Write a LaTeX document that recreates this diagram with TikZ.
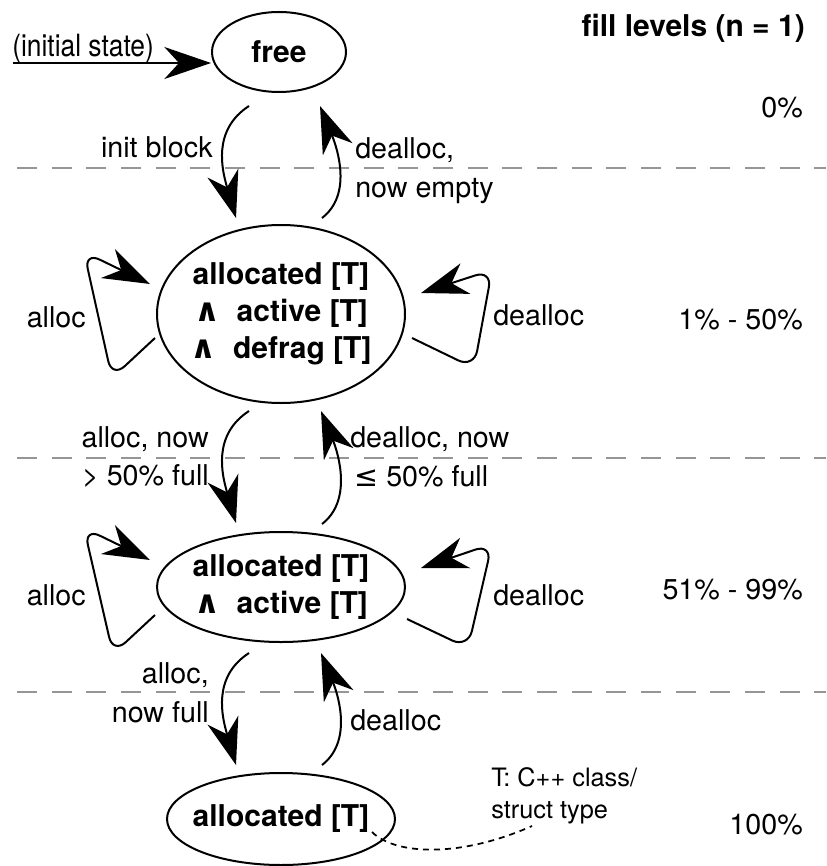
\documentclass[tikz,border=0pt]{standalone}
\usepackage{fontspec}
\setmainfont{TeX Gyre Heros}
\newfontfamily\symfont{DejaVu Sans}
\usetikzlibrary{arrows.meta,calc,shapes.geometric}
\definecolor{sepgray}{RGB}{150,150,150}
\newcommand{\wedgesym}{{\symfont\bfseries\fontsize{24}{24}\selectfont ∧}}
\begin{document}
\begin{tikzpicture}[x=0.75pt,y=-0.75pt,
  state/.style={draw,ellipse,line width=1.5pt,inner sep=0pt,inner xsep=-25pt,align=center,
    font=\fontsize{22.5}{27.75}\selectfont\bfseries},
  lbl/.style={inner sep=0pt,font=\fontsize{21.5}{29}\selectfont},
  notelbl/.style={inner sep=0pt,align=left,font=\fontsize{19}{24}\selectfont},
  arr/.style={line width=1.5pt,-{Stealth[length=35pt,width=24pt,inset=11pt]}},
  selfloop/.style={arr,rounded corners=13pt},
  sepline/.style={draw=sepgray,line width=1.5pt,dash pattern=on 15pt off 11pt},
  notelink/.style={line width=1.3pt,dash pattern=on 4.5pt off 3.75pt}
]
\useasboundingbox (0,0) rectangle (826,866);

% separators
\draw[sepline] (17,168) -- (826,168);
\draw[sepline] (17,458) -- (826,458);
\draw[sepline] (17,692) -- (826,692);

% states
\node[state,minimum width=100.5pt,minimum height=60pt] (free) at (279,52) {free};
\node[state,minimum width=186pt,minimum height=133.5pt] (A) at (281,314)
  {allocated [T]\\\wedgesym\ \ active [T]\\\wedgesym\ \ defrag [T]};
\node[state,minimum width=186pt,minimum height=82.5pt] (B) at (281,587)
  {allocated [T]\\\wedgesym\ \ active [T]};
\node[state,minimum width=171pt,minimum height=69pt] (C) at (281,819) {allocated [T]};

% initial state
\node[lbl,anchor=base west,font=\fontsize{23}{28}\selectfont] (init) at (12,57)
  {\scalebox{0.86}[1]{(initial state)}};
\coordinate (i0) at (13,63);
\draw[arr] (i0) -- (free.west |- i0);

% transition endpoints
\coordinate (d1s) at (249,106); \coordinate (d1e) at (236,218);
\coordinate (u1s) at (322,218); \coordinate (u1e) at (320,106);
\coordinate (d2s) at (249,411); \coordinate (d2e) at (236,523);
\coordinate (u2s) at (322,524); \coordinate (u2e) at (321,411);
\coordinate (d3s) at (249,653); \coordinate (d3e) at (236,765);
\coordinate (u3s) at (322,765); \coordinate (u3e) at (321,653);

\foreach \s/\e in {d1s/d1e,d2s/d2e,d3s/d3e}{
  \draw[arr] (\s) .. controls ($(\s)+(-37,24)$) and ($(\e)+(-14,-48)$) .. (\e);
}
\foreach \s/\e in {u1s/u1e,u2s/u2e,u3s/u3e}{
  \draw[arr] (\s) .. controls ($(\s)+(30,-23)$) and ($(\e)+(18,44)$) .. (\e);
}

% self loops
\draw[selfloop] (155,338) -- (112,378) -- (84,252) -- (150,284);
\draw[selfloop] (412,338) -- (474,368) -- (492,270) -- (421,293);
\draw[selfloop] (155,615) -- (113,654) -- (84,528) -- (150,560);
\draw[selfloop] (407,619) -- (468,648) -- (492,544) -- (421,568);

% transition labels
\node[lbl,anchor=base east] (l1) at (213,158) {init block};
\node[lbl,anchor=west,align=left] (l2) at (355,171) {dealloc,\\now empty};
\node[lbl,anchor=east] (l3) at (86,317) {alloc};
\node[lbl,anchor=west] (l4) at (493,315) {dealloc};
\node[lbl,anchor=east,align=right] (l5) at (209,457) {alloc, now\\> 50\% full};
\node[lbl,anchor=west,align=left] (l6) at (350,457) {dealloc, now\\\hspace*{3pt}{\symfont ≤} 50\% full};
\node[lbl,anchor=east] (l7) at (86,595) {alloc};
\node[lbl,anchor=west] (l8) at (493,595) {dealloc};
\node[lbl,anchor=east,align=right] (l9) at (209,693) {alloc,\\now full};
\node[lbl,anchor=west] (l10) at (350,720) {dealloc};

% fill levels
\node[lbl,anchor=east,font=\fontsize{22.5}{28}\selectfont\bfseries] (fl) at (805,28) {fill levels (n = 1)};
\node[lbl,anchor=east] (p0) at (803,108) {0\%};
\node[lbl,anchor=east] (p1) at (803,320) {1\% - 50\%};
\node[lbl,anchor=east] (p2) at (803,590) {51\% - 99\%};
\node[lbl,anchor=east] (p3) at (803,825) {100\%};

% note
\node[notelbl,anchor=west] (note) at (491,796) {T: C++ class/\\struct type};
\coordinate (n0) at (372,832);
\coordinate (n1) at (532,826);
\draw[notelink] (n0) .. controls (395,855) and (460,858) .. (n1);
\end{tikzpicture}
\end{document}
